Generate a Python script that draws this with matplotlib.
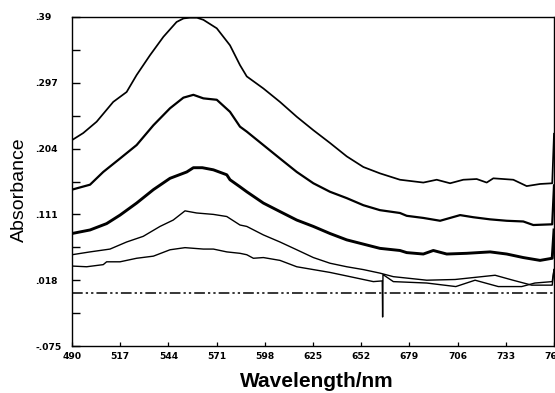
import numpy as np
import matplotlib
matplotlib.use("Agg")
import matplotlib.pyplot as plt
from matplotlib.ticker import FixedLocator

# ---- data ----
wl_a = [490, 496.3, 503.8, 513.1, 520.6, 526.2, 533.7, 541.2, 548.6, 552.5, 556.1, 560.0,
        563.6, 571.1, 578.5, 584.1, 587.9, 597.2, 606.5, 615.9, 625.2, 634.5, 643.9, 653.2,
        662.5, 673.7, 686.8, 694.3, 701.8, 709.2, 716.7, 722.3, 726.0, 737.2, 744.7, 752.2,
        759.0, 760]
abs_a = [0.216, 0.226, 0.242, 0.270, 0.284, 0.308, 0.336, 0.362, 0.383, 0.388, 0.389, 0.389,
         0.386, 0.374, 0.350, 0.322, 0.306, 0.289, 0.270, 0.249, 0.230, 0.212, 0.193, 0.178,
         0.169, 0.160, 0.156, 0.160, 0.155, 0.160, 0.161, 0.156, 0.162, 0.160, 0.151, 0.154,
         0.155, 0.225]

wl_b = [490, 500.1, 507.5, 516.9, 526.2, 535.6, 544.9, 552.4, 558.0, 563.6, 571.1, 578.5,
        584.1, 587.9, 597.2, 606.5, 615.9, 625.2, 634.5, 643.9, 653.2, 662.5, 673.7, 677.5,
        686.8, 696.2, 707.4, 714.8, 724.2, 733.5, 742.8, 748.4, 759.0, 760]
abs_b = [0.146, 0.153, 0.171, 0.190, 0.209, 0.237, 0.261, 0.276, 0.280, 0.275, 0.273, 0.256,
         0.235, 0.228, 0.209, 0.190, 0.171, 0.155, 0.143, 0.134, 0.124, 0.117, 0.113, 0.109,
         0.106, 0.102, 0.110, 0.107, 0.104, 0.102, 0.101, 0.096, 0.097, 0.152]

wl_c = [490, 500.1, 509.4, 516.9, 526.2, 535.6, 544.9, 554.3, 558.0, 563.0, 569.2, 576.7,
        578.5, 584.1, 587.9, 597.2, 606.5, 615.9, 625.2, 634.5, 643.9, 653.2, 662.5, 673.7,
        677.5, 686.8, 692.4, 699.9, 711.1, 724.2, 733.5, 742.8, 752.2, 759.0, 760]
abs_c = [0.084, 0.089, 0.098, 0.110, 0.127, 0.146, 0.162, 0.171, 0.177, 0.177, 0.174, 0.167,
         0.160, 0.150, 0.143, 0.127, 0.115, 0.103, 0.094, 0.084, 0.075, 0.069, 0.063, 0.060,
         0.057, 0.055, 0.060, 0.055, 0.056, 0.058, 0.055, 0.050, 0.046, 0.049, 0.089]

wl_d = [490, 500.1, 511.3, 520.6, 529.9, 539.3, 546.7, 553.3, 559.8, 569.2, 576.7, 584.1,
        587.9, 597.2, 606.5, 615.9, 625.2, 634.5, 643.9, 653.2, 662.5, 670.0, 688.7, 704.6,
        715.8, 727.0, 737.0, 747.5, 759.0, 760]
abs_d = [0.054, 0.058, 0.062, 0.072, 0.080, 0.094, 0.103, 0.116, 0.113, 0.111, 0.108, 0.096,
         0.094, 0.082, 0.072, 0.061, 0.050, 0.042, 0.037, 0.033, 0.028, 0.023, 0.018, 0.019,
         0.022, 0.025, 0.018, 0.011, 0.011, 0.033]

wl_e = [490, 498.2, 507.5, 509.4, 516.9, 526.2, 535.6, 544.9, 553.3, 563.6, 569.2, 576.7,
        584.1, 587.9, 591.6, 597.2, 606.5, 615.9, 625.2, 634.5, 643.9, 653.2, 658.8, 663.8,
        664.0, 664.2, 670.0, 688.7, 705.0, 715.8, 728.8, 741.9, 749.3, 759.0, 760]
abs_e = [0.038, 0.037, 0.040, 0.044, 0.044, 0.049, 0.052, 0.061, 0.064, 0.062, 0.062, 0.058,
         0.056, 0.054, 0.049, 0.050, 0.046, 0.037, 0.033, 0.029, 0.024, 0.019, 0.016, 0.017,
         -0.034, 0.026, 0.016, 0.014, 0.009, 0.018, 0.009, 0.009, 0.014, 0.016, 0.033]

baseline_value = 0.0

x_ticks = [490, 517, 544, 571, 598, 625, 652, 679, 706, 733, 760]
x_labels = ["490", "517", "544", "571", "598", "625", "652", "679", "706", "733", "760"]
y_ticks = [-0.075, 0.018, 0.111, 0.204, 0.297, 0.39]
y_labels = ["-.075", ".018", ".111", ".204", ".297", ".39"]

# ---- figure ----
fig = plt.figure(figsize=(5.55, 3.93), dpi=100)
ax = fig.add_axes([72 / 555, 47 / 393, 482 / 555, 329 / 393])

ax.plot(wl_a, abs_a, color="black", lw=1.25)
ax.plot(wl_b, abs_b, color="black", lw=1.6)
ax.plot(wl_c, abs_c, color="black", lw=2.1)
ax.plot(wl_d, abs_d, color="black", lw=1.0)
ax.plot(wl_e, abs_e, color="black", lw=1.0)
ax.axhline(baseline_value, color="black", lw=1.1,
           linestyle=(0, (7, 2, 1.5, 2, 1.5, 2)))

ax.set_xlim(x_ticks[0], x_ticks[-1])
ax.set_ylim(y_ticks[0], y_ticks[-1])

tick_font = dict(family="DejaVu Sans", weight="bold", size=6.6)
ax.xaxis.set_major_locator(FixedLocator(x_ticks))
ax.set_xticklabels(x_labels, fontdict=tick_font)
ax.yaxis.set_major_locator(FixedLocator(y_ticks))
ax.set_yticklabels(y_labels, fontdict=tick_font, ha="left")
yt = np.array(y_ticks)
ax.yaxis.set_minor_locator(FixedLocator((yt[:-1] + yt[1:]) / 2))

ax.tick_params(axis="y", which="both", direction="in", length=5.5, width=1.0,
               pad=26.5, right=False)
ax.tick_params(axis="x", which="major", direction="in", length=3.0, width=0.9,
               pad=4.5, top=False)

for sp in ax.spines.values():
    sp.set_linewidth(1.0)

ax.set_xlabel("Wavelength/nm", family="Liberation Sans", weight="bold", fontsize=15)
ax.xaxis.set_label_coords(0.508, -0.080)
ax.xaxis.label.set_va("top")

ax.set_ylabel("Absorbance", family="Liberation Sans", fontsize=14)
ax.yaxis.label.set_va("center")
ax.yaxis.set_label_coords(-0.108, 0.474)

fig.savefig("out.png", dpi=100, facecolor="white")
